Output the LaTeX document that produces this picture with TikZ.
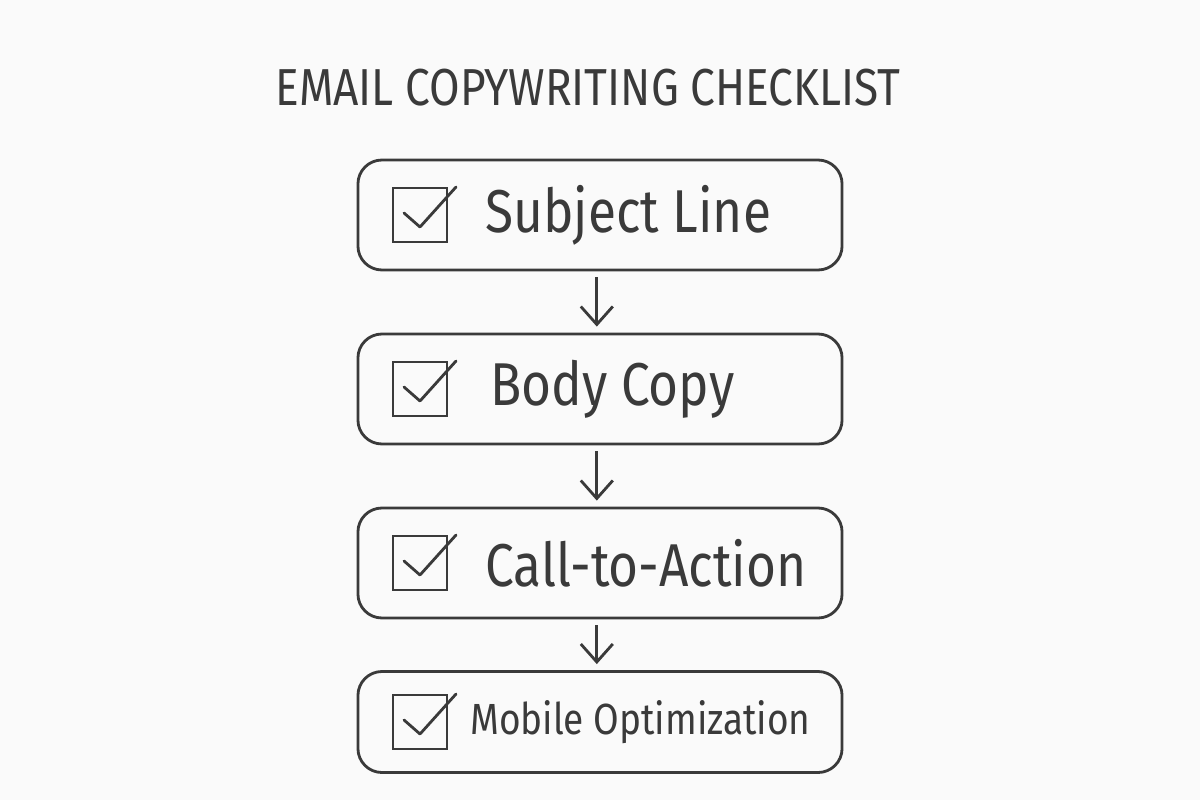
\documentclass[tikz,border=0pt]{standalone}
\usepackage{fontspec}
\setmainfont{Fira Sans}[FakeStretch=0.85]
\usepackage{tikz}
\usetikzlibrary{arrows.meta}

\definecolor{ink}{HTML}{3A3A3A}
\definecolor{paper}{HTML}{FAFAFA}

\tikzset{
  stepbox/.style={draw=ink, line width=2pt, rounded corners=6mm, minimum width=12.1cm, inner sep=0pt},
  tickbox/.style={draw=ink, line width=2pt, minimum size=1.35cm, inner sep=0pt},
  steplabel/.style={anchor=west, text=ink, inner sep=0pt, font=\fontsize{43}{48}\selectfont},
  flow/.style={draw=ink, line width=2pt, -{Straight Barb[length=4.5mm,width=8mm,line width=2pt]}}
}

\begin{document}
\begin{tikzpicture}[x=0.025cm, y=-0.025cm]
		\fill[paper] (0,0) rectangle (1200,800);
		\useasboundingbox (0,0) rectangle (1200,800);
		\node[text=ink, font=\fontsize{37}{44}\selectfont] (title) at (588,88) {EMAIL COPYWRITING CHECKLIST};
		\foreach \y/\h/\alph/\tx/\name in {
			215/110/subj/485/Subject Line,
			389/110/body/490/Body Copy,
			563/110/cta/485/Call-to-Action,
			722/101/mob/470/Mobile Optimization
		}{
			\node[stepbox, minimum height=\h*0.025cm] (\alph) at (600,\y) {};
			\node[tickbox] (\alph chk) at (420,\y) {};
			\draw[ink, line width=2pt, line cap=round, line join=round]
				([xshift=-0.4cm, yshift=0.05cm]\alph chk.center) -- ([yshift=-0.3cm]\alph chk.center) -- ([xshift=0.9cm, yshift=0.7cm]\alph chk.center);
			\ifnum\y=722
				\node[steplabel, font=\fontsize{31}{36}\selectfont] (\alph txt) at (\tx,\y) {\name};
			\else
				\node[steplabel] (\alph txt) at (\tx,\y) {\name};
			\fi
		}
		\foreach \a/\b in {subj/body, body/cta, cta/mob}
		{\draw[flow] ([xshift=-0.08cm, yshift=-0.15cm]\a.south) -- ([xshift=-0.08cm, yshift=0.15cm]\b.north);}
	\end{tikzpicture}
\end{document}
